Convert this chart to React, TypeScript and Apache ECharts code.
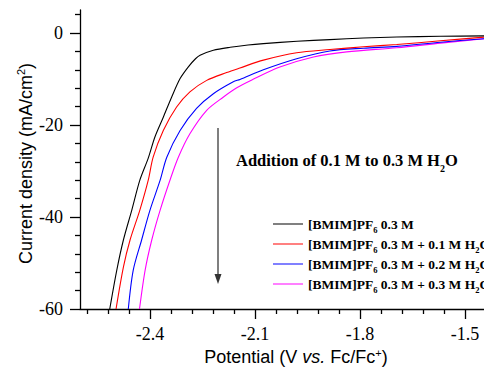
import React, { useEffect, useRef } from "react";
import * as echarts from "echarts";

// Potential (V vs. Fc/Fc+) , current density (mA/cm2)
const blackCurve: [number, number][] = [
  [-2.515, -60], [-2.495, -51.6], [-2.476, -45], [-2.452, -38.5], [-2.429, -32],
  [-2.405, -27.2], [-2.386, -22.6], [-2.362, -18.3], [-2.338, -13.9], [-2.314, -9.9],
  [-2.291, -7.4], [-2.27, -5.6], [-2.257, -4.85], [-2.219, -3.76], [-2.171, -3.1],
  [-2.12, -2.6], [-2.076, -2.3], [-1.98, -1.8], [-1.886, -1.43], [-1.79, -1.1],
  [-1.695, -0.87], [-1.57, -0.72], [-1.44, -0.62],
];
const redCurve: [number, number][] = [
  [-2.497, -60], [-2.476, -50.9], [-2.457, -45], [-2.429, -38.5], [-2.405, -32],
  [-2.391, -27], [-2.362, -21.2], [-2.324, -16.1], [-2.286, -12.8], [-2.238, -10.3],
  [-2.181, -8.6], [-2.143, -7.6], [-2.076, -5.9], [-1.981, -4.3], [-1.886, -3.6],
  [-1.79, -3.0], [-1.695, -2.5], [-1.57, -1.7], [-1.44, -0.87],
];
const blueCurve: [number, number][] = [
  [-2.462, -60], [-2.448, -51.6], [-2.424, -45], [-2.4, -38.5], [-2.371, -32],
  [-2.352, -27], [-2.314, -21.2], [-2.267, -16.4], [-2.219, -13.2], [-2.162, -10.6],
  [-2.143, -10.1], [-2.076, -8], [-1.981, -5.6], [-1.886, -3.9], [-1.79, -3.3],
  [-1.695, -2.9], [-1.57, -2.0], [-1.44, -1.2],
];
const magentaCurve: [number, number][] = [
  [-2.43, -60], [-2.414, -51.6], [-2.395, -45], [-2.371, -38.5], [-2.343, -32],
  [-2.319, -27], [-2.286, -21.9], [-2.238, -16.8], [-2.19, -13.9], [-2.152, -11.9],
  [-2.109, -10.2], [-2.029, -7.4], [-1.933, -5.2], [-1.838, -4.1], [-1.695, -3.2],
  [-1.57, -2.2], [-1.44, -1.2],
];

const seriesNames = [
  "[BMIM]PF6 0.3 M",
  "[BMIM]PF6 0.3 M + 0.1 M H2O",
  "[BMIM]PF6 0.3 M + 0.2 M H2O",
  "[BMIM]PF6 0.3 M + 0.3 M H2O",
];
const legendRich = [
  "{b|[BMIM]PF}{s|6}{b| 0.3 M}",
  "{b|[BMIM]PF}{s|6}{b| 0.3 M + 0.1 M H}{s|2}{b|O}",
  "{b|[BMIM]PF}{s|6}{b| 0.3 M + 0.2 M H}{s|2}{b|O}",
  "{b|[BMIM]PF}{s|6}{b| 0.3 M + 0.3 M H}{s|2}{b|O}",
];
const seriesColors = ["#000000", "#ff0000", "#0000ff", "#ff00ff"];

const xMajorTicks = [-2.4, -2.1, -1.8, -1.5];
const xMinorTicks = [-2.58, -2.52, -2.46, -2.34, -2.28, -2.22, -2.16, -2.04, -1.98, -1.92, -1.86, -1.74, -1.68, -1.62, -1.56, -1.44];
const yMajorTicks = [-60, -40, -20, 0];
const yMinorTicks = [-56, -52, -48, -44, -36, -32, -28, -24, -16, -12, -8, -4, 4];

const X_MIN = -2.6;
const X_MAX = -1.4457;
const Y_MIN = -60;
const Y_MAX = 5;

const serif = "Liberation Serif";
const sans = "Liberation Sans";

export default function App() {
  const ref = useRef<HTMLDivElement>(null);
  useEffect(() => {
    if (!ref.current) return;
    const chart = echarts.init(ref.current, undefined, { renderer: "svg" });
    const curves = [blackCurve, redCurve, blueCurve, magentaCurve];
    const tickStyle = { color: "#000", width: 1.3 };
    chart.setOption({
      animation: false,
      backgroundColor: "#fff",
      grid: { left: 80, right: 0, top: 10, bottom: 58 },
      xAxis: [
        {
          type: "value", position: "bottom", min: X_MIN, max: X_MAX,
          axisLine: { show: true, onZero: false, lineStyle: tickStyle },
          splitLine: { show: false },
          axisTick: { show: true, inside: false, length: 10, customValues: xMajorTicks, lineStyle: tickStyle },
          axisLabel: {
            show: true, customValues: xMajorTicks, margin: 16,
            fontFamily: serif, fontSize: 18, color: "#000",
            formatter: (v: number) => v.toFixed(1),
          },
        },
        {
          type: "value", position: "bottom", min: X_MIN, max: X_MAX,
          axisLine: { show: false, onZero: false },
          splitLine: { show: false },
          axisTick: { show: true, inside: false, length: 5, customValues: xMinorTicks, lineStyle: tickStyle },
          axisLabel: { show: false },
        },
      ],
      yAxis: [
        {
          type: "value", position: "left", min: Y_MIN, max: Y_MAX,
          axisLine: { show: true, onZero: false, lineStyle: tickStyle },
          splitLine: { show: false },
          axisTick: { show: true, inside: false, length: 10, customValues: yMajorTicks, lineStyle: tickStyle },
          axisLabel: {
            show: true, customValues: yMajorTicks, margin: 17,
            fontFamily: serif, fontSize: 18, color: "#000",
          },
        },
        {
          type: "value", position: "left", min: Y_MIN, max: Y_MAX,
          axisLine: { show: false, onZero: false },
          splitLine: { show: false },
          axisTick: { show: true, inside: false, length: 5, customValues: yMinorTicks, lineStyle: tickStyle },
          axisLabel: { show: false },
        },
      ],
      legend: {
        orient: "vertical",
        left: 273,
        top: 217,
        itemWidth: 30,
        itemHeight: 14,
        itemGap: 2.5,
        padding: 0,
        icon: "path://M0,6.5L30,6.5L30,7.5L0,7.5Z",
        data: seriesNames.map((n, i) => ({ name: n, itemStyle: { color: seriesColors[i] } })),
        formatter: (name: string) => legendRich[seriesNames.indexOf(name)],
        textStyle: {
          rich: {
            b: { fontFamily: serif, fontWeight: "bold", fontSize: 13.5, color: "#000", lineHeight: 14 },
            s: { fontFamily: serif, fontWeight: "bold", fontSize: 8.5, color: "#000", verticalAlign: "bottom", height: 2, lineHeight: 2 },
          },
        },
      },
      series: curves.map((c, i) => ({
        type: "line",
        name: seriesNames[i],
        data: c,
        xAxisIndex: 0,
        yAxisIndex: 0,
        symbol: "none",
        smooth: 0.3,
        lineStyle: { color: seriesColors[i], width: 1.1 },
        itemStyle: { color: seriesColors[i] },
        z: 5 - i,
      })),
      graphic: [
        {
          type: "text", x: 25.5, y: 163.5, rotation: Math.PI / 2,
          style: {
            text: "{a|Current density (mA/cm}{p|2}{a|)}",
            align: "center", verticalAlign: "middle",
            rich: {
              a: { fontFamily: sans, fontSize: 18, fill: "#000", lineHeight: 20 },
              p: { fontFamily: sans, fontSize: 11, fill: "#000", verticalAlign: "top", lineHeight: 12 },
            },
          },
        },
        {
          type: "text", x: 296, y: 357,
          style: {
            text: "{a|Potential (V }{i|vs.}{a| Fc/Fc}{p|+}{a|)}",
            align: "center", verticalAlign: "middle",
            rich: {
              a: { fontFamily: sans, fontSize: 18, fill: "#000", lineHeight: 20 },
              i: { fontFamily: sans, fontSize: 18, fontStyle: "italic", fill: "#000", lineHeight: 20 },
              p: { fontFamily: sans, fontSize: 11, fill: "#000", verticalAlign: "top", lineHeight: 12 },
            },
          },
        },
        {
          type: "text", x: 236, y: 160,
          style: {
            text: "{b|Addition of 0.1 M to 0.3 M H}{s|2}{b|O}",
            align: "left", verticalAlign: "middle",
            rich: {
              b: { fontFamily: serif, fontWeight: "bold", fontSize: 16.5, fill: "#000", lineHeight: 18 },
              s: { fontFamily: serif, fontWeight: "bold", fontSize: 10, fill: "#000", verticalAlign: "bottom", height: 1, lineHeight: 1 },
            },
          },
        },
        {
          type: "line",
          shape: { x1: 218, y1: 128, x2: 218, y2: 276 },
          style: { stroke: "#555", lineWidth: 1.5 },
        },
        {
          type: "polygon",
          shape: { points: [[214.5, 274], [221.5, 274], [218, 284]] },
          style: { fill: "#333" },
        },
      ],
    });
    return () => chart.dispose();
  }, []);
  return <div ref={ref} style={{ width: 484, height: 367, position: "absolute", left: 0, top: 0 }} />;
}
